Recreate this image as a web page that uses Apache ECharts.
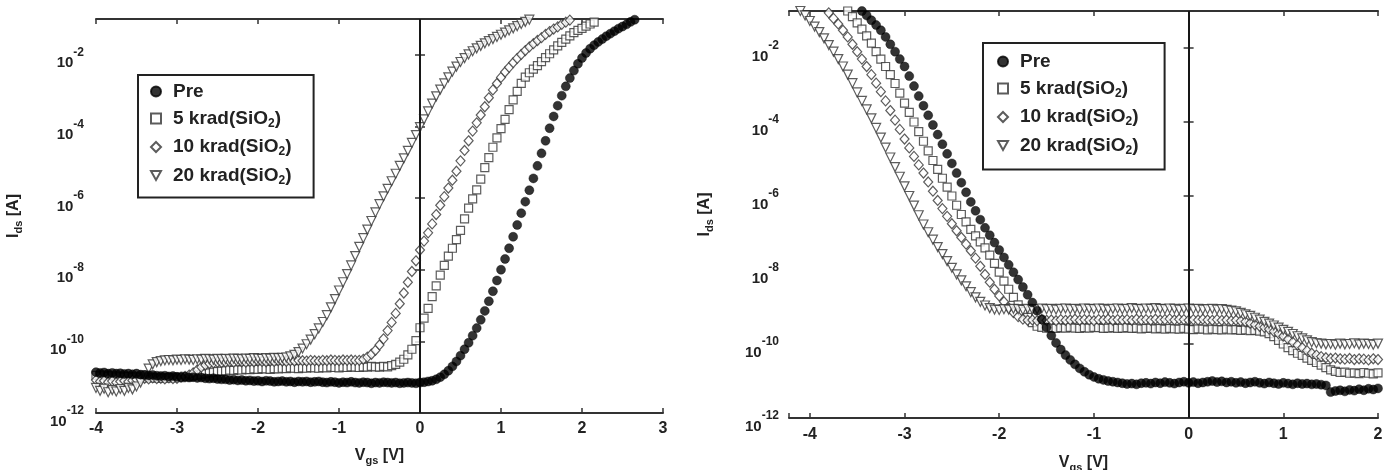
<!DOCTYPE html>
<html>
<head>
<meta charset="utf-8">
<title>Ids - Vgs before and after irradiation</title>
<script src="https://cdn.jsdelivr.net/npm/echarts@6/dist/echarts.min.js"></script>
<style>
  html, body { margin: 0; padding: 0; background: #fff; }
  #chart { width: 1385px; height: 470px; }
</style>
</head>
<body>
<div id="chart"></div>
<script>
// gate voltage sweeps (V)
const vgsLeft = [
  -4, -3.95, -3.9, -3.85, -3.8, -3.75, -3.7, -3.65, -3.6, -3.55,
  -3.5, -3.45, -3.4, -3.35, -3.3, -3.25, -3.2, -3.15, -3.1, -3.05,
  -3, -2.95, -2.9, -2.85, -2.8, -2.75, -2.7, -2.65, -2.6, -2.55,
  -2.5, -2.45, -2.4, -2.35, -2.3, -2.25, -2.2, -2.15, -2.1, -2.05,
  -2, -1.95, -1.9, -1.85, -1.8, -1.75, -1.7, -1.65, -1.6, -1.55,
  -1.5, -1.45, -1.4, -1.35, -1.3, -1.25, -1.2, -1.15, -1.1, -1.05,
  -1, -0.95, -0.9, -0.85, -0.8, -0.75, -0.7, -0.65, -0.6, -0.55,
  -0.5, -0.45, -0.4, -0.35, -0.3, -0.25, -0.2, -0.15, -0.1, -0.05,
  0, 0.05, 0.1, 0.15, 0.2, 0.25, 0.3, 0.35, 0.4, 0.45,
  0.5, 0.55, 0.6, 0.65, 0.7, 0.75, 0.8, 0.85, 0.9, 0.95,
  1, 1.05, 1.1, 1.15, 1.2, 1.25, 1.3, 1.35, 1.4, 1.45,
  1.5, 1.55, 1.6, 1.65, 1.7, 1.75, 1.8, 1.85, 1.9, 1.95,
  2, 2.05, 2.1, 2.15, 2.2, 2.25, 2.3, 2.35, 2.4, 2.45,
  2.5, 2.55, 2.6, 2.65
];
const vgsRight = [
  -4.1, -4.05,
  -4, -3.95, -3.9, -3.85, -3.8, -3.75, -3.7, -3.65, -3.6, -3.55,
  -3.5, -3.45, -3.4, -3.35, -3.3, -3.25, -3.2, -3.15, -3.1, -3.05,
  -3, -2.95, -2.9, -2.85, -2.8, -2.75, -2.7, -2.65, -2.6, -2.55,
  -2.5, -2.45, -2.4, -2.35, -2.3, -2.25, -2.2, -2.15, -2.1, -2.05,
  -2, -1.95, -1.9, -1.85, -1.8, -1.75, -1.7, -1.65, -1.6, -1.55,
  -1.5, -1.45, -1.4, -1.35, -1.3, -1.25, -1.2, -1.15, -1.1, -1.05,
  -1, -0.95, -0.9, -0.85, -0.8, -0.75, -0.7, -0.65, -0.6, -0.55,
  -0.5, -0.45, -0.4, -0.35, -0.3, -0.25, -0.2, -0.15, -0.1, -0.05,
  0, 0.05, 0.1, 0.15, 0.2, 0.25, 0.3, 0.35, 0.4, 0.45,
  0.5, 0.55, 0.6, 0.65, 0.7, 0.75, 0.8, 0.85, 0.9, 0.95,
  1, 1.05, 1.1, 1.15, 1.2, 1.25, 1.3, 1.35, 1.4, 1.45,
  1.5, 1.55, 1.6, 1.65, 1.7, 1.75, 1.8, 1.85, 1.9, 1.95,
  2
];

// log10(Ids / A), left panel: sweeps start at -4 V and stop at compliance
const preLeft = [
  -10.86, -10.88, -10.87, -10.9, -10.88, -10.9, -10.89, -10.91, -10.9, -10.92, -10.9, -10.93,
  -10.94, -10.95, -10.94, -10.96, -10.97, -10.96, -10.98, -10.97, -10.99, -11, -10.99, -11.01, -11, -11.02, -11.01, -11.03, -11.04, -11.03, -11.05, -11.06,
  -11.06, -11.08, -11.07, -11.09, -11.08, -11.1, -11.09, -11.11, -11.1, -11.12, -11.1, -11.11, -11.13, -11.12, -11.11, -11.13, -11.12, -11.14, -11.12, -11.13,
  -11.12, -11.14, -11.13, -11.12, -11.14, -11.15, -11.13, -11.14, -11.16, -11.14, -11.15, -11.13, -11.15, -11.16, -11.14, -11.15, -11.17, -11.15, -11.16, -11.14,
  -11.15, -11.16, -11.15, -11.17, -11.16, -11.15, -11.16, -11.17, -11.15, -11.14, -11.12, -11.1, -11.06,
  -11, -10.92, -10.82, -10.7, -10.56, -10.4, -10.22, -10.04, -9.84, -9.63,
  -9.4, -9.15, -8.88, -8.6, -8.3, -8, -7.7, -7.4, -7.08, -6.75,
  -6.42, -6.1, -5.78, -5.45, -5.1, -4.75, -4.4, -4.05, -3.72, -3.42,
  -3.14, -2.88, -2.65, -2.44, -2.25, -2.09, -1.95, -1.83, -1.73, -1.64,
  -1.56, -1.48, -1.41, -1.34, -1.27, -1.21, -1.15, -1.08, -1.02
];
const k5Left = [
  -10.95, -10.97, -10.94, -10.98, -10.96, -10.99, -10.97, -11, -10.98, -11.01, -10.99, -11,
  -11, -11.02, -11.01, -11.03, -11.02, -11.03, -11.01, -11.02, -11, -11.01, -10.98, -10.99, -10.96, -10.94, -10.92, -10.9, -10.88, -10.86, -10.84, -10.83,
  -10.82, -10.8, -10.81, -10.79, -10.8, -10.78, -10.79, -10.77, -10.78, -10.76, -10.77, -10.78, -10.76, -10.77, -10.75, -10.76, -10.74, -10.75, -10.76, -10.74,
  -10.75, -10.73, -10.74, -10.75, -10.73, -10.74, -10.72, -10.73, -10.74, -10.72, -10.73, -10.71, -10.72, -10.73, -10.71, -10.72, -10.7, -10.71, -10.72, -10.7,
  -10.71, -10.68, -10.64, -10.58, -10.5, -10.38, -10.22, -9.98, -9.62, -9.35,
  -9.08, -8.75, -8.45, -8.15, -7.88, -7.62, -7.4, -7.16, -6.9, -6.58,
  -6.28, -6.02, -5.77, -5.47, -5.15, -4.87, -4.58, -4.32, -4.06, -3.8,
  -3.53, -3.26, -3.02, -2.8, -2.62, -2.5, -2.4, -2.3, -2.19, -2.08,
  -1.97, -1.86, -1.75, -1.65, -1.56, -1.47, -1.38, -1.32, -1.26, -1.2,
  -1.14, -1.09
];
const k10Left = [
  -11.08, -11.12, -11.1, -11.14, -11.11, -11.15, -11.12, -11.1, -11.13, -11.09, -11.06, -11.04,
  -11.03, -11.05, -11.02, -11.04, -11.03, -11.05, -11.02, -11.04, -11.03, -11, -10.98, -10.94, -10.88, -10.8, -10.72, -10.66, -10.62, -10.6, -10.58, -10.59,
  -10.58, -10.57, -10.58, -10.56, -10.57, -10.58, -10.56, -10.57, -10.55, -10.56, -10.57, -10.55, -10.56, -10.54, -10.55, -10.56, -10.54, -10.55, -10.53, -10.54,
  -10.55, -10.53, -10.54, -10.55, -10.53, -10.54, -10.52, -10.53, -10.54, -10.52, -10.53, -10.52, -10.53,
  -10.53, -10.5, -10.44, -10.36, -10.25, -10.1, -9.93, -9.7, -9.47, -9.22,
  -8.95, -8.65, -8.35, -8.05, -7.75, -7.45, -7.2, -6.97, -6.72, -6.46,
  -6.2, -5.96, -5.72, -5.5, -5.25, -4.96, -4.67, -4.4, -4.13, -3.9,
  -3.68, -3.45, -3.2, -2.98, -2.8, -2.63, -2.48, -2.35, -2.22, -2.1,
  -1.99, -1.88, -1.78, -1.69, -1.6, -1.52, -1.43, -1.35, -1.28, -1.22,
  -1.15, -1.09, -1.03
];
const k20Left = [
  -11.3, -11.38, -11.32, -11.42, -11.36, -11.4, -11.33, -11.38, -11.3, -11.34, -11.26, -11.15,
  -10.95, -10.76, -10.64, -10.58, -10.55, -10.53, -10.52, -10.53, -10.51, -10.52, -10.5, -10.51, -10.52, -10.5, -10.51, -10.49, -10.5, -10.51, -10.49, -10.5,
  -10.49, -10.5, -10.48, -10.49, -10.5, -10.48, -10.49, -10.47, -10.48, -10.49, -10.47, -10.48, -10.46, -10.47, -10.46, -10.45,
  -10.42, -10.38, -10.3, -10.2, -10.08, -9.95, -9.8, -9.64, -9.46, -9.27,
  -9.05, -8.82, -8.58, -8.35, -8.12, -7.88, -7.62, -7.36, -7.12, -6.88,
  -6.64, -6.4, -6.17, -5.95, -5.74, -5.53, -5.32, -5.1, -4.89, -4.68,
  -4.46, -4.24, -4.02, -3.8, -3.58, -3.36, -3.16, -2.97, -2.8, -2.63,
  -2.47, -2.33, -2.2, -2.09, -1.99, -1.9, -1.82, -1.75, -1.68, -1.62,
  -1.56, -1.5, -1.44, -1.38, -1.32, -1.26, -1.2, -1.14, -1.08, -1.02
];

// log10(Ids / A), right panel: sweeps leave compliance and run to +2 V
const preRight = [
  -1, -1.12, -1.25, -1.38, -1.52, -1.7, -1.9, -2.1, -2.3, -2.5,
  -2.76, -3.03, -3.3, -3.56, -3.82, -4.08, -4.34, -4.6, -4.86, -5.12,
  -5.38, -5.64, -5.9, -6.16, -6.4, -6.64, -6.86, -7.06, -7.26, -7.46,
  -7.66, -7.86, -8.06, -8.26, -8.46, -8.67, -8.88, -9.1, -9.33, -9.55,
  -9.77, -9.97, -10.15, -10.3, -10.43, -10.55, -10.66, -10.75, -10.83, -10.89,
  -10.94, -10.97, -11, -11.02,
  -11.04, -11.06, -11.08, -11.07, -11.09, -11.06, -11.05, -11.07, -11.04, -11.06,
  -11.03, -11.05, -11.07, -11.04, -11.02, -11.05, -11.03, -11.06, -11.04, -11.02,
  -11, -11.03, -11.01, -11.04, -11.02, -11.05, -11.03, -11.06, -11.04, -11.02,
  -11.05, -11.07, -11.04, -11.06, -11.08, -11.05, -11.07, -11.09, -11.06, -11.08,
  -11.07, -11.09, -11.08, -11.1, -11.12, -11.3, -11.27, -11.25, -11.28, -11.24,
  -11.26, -11.22, -11.25, -11.21, -11.23, -11.2
];
const k5Right = [
  -1, -1.15, -1.32, -1.49, -1.67, -1.87, -2.1, -2.3, -2.5, -2.72,
  -2.96, -3.22, -3.49, -3.74, -4, -4.26, -4.52, -4.78, -5.04, -5.28,
  -5.52, -5.76, -6, -6.25, -6.5, -6.7, -6.9, -7.08, -7.24, -7.4,
  -7.6, -7.82, -8.06, -8.3, -8.52, -8.74, -8.94, -9.12, -9.28, -9.42,
  -9.52,
  -9.55, -9.57, -9.56, -9.58, -9.56, -9.57, -9.55, -9.57, -9.58, -9.56,
  -9.57, -9.55, -9.56, -9.58, -9.57, -9.56, -9.58, -9.57, -9.56, -9.58,
  -9.57, -9.59, -9.58, -9.57, -9.59, -9.58, -9.6, -9.58, -9.59, -9.6,
  -9.58, -9.6, -9.61, -9.59, -9.6, -9.62, -9.6, -9.61, -9.62, -9.6,
  -9.62, -9.61, -9.63, -9.62, -9.64, -9.63, -9.65, -9.67,
  -9.72, -9.8, -9.9, -10, -10.1, -10.18, -10.25, -10.31, -10.38, -10.44,
  -10.5, -10.57, -10.64, -10.7,
  -10.74, -10.77, -10.76, -10.79, -10.78, -10.8, -10.77, -10.79, -10.81, -10.78
];
const k10Right = [
  -1.05, -1.2, -1.35, -1.52, -1.7, -1.9, -2.1, -2.3, -2.5, -2.72,
  -2.95, -3.18, -3.43, -3.69, -3.95, -4.2, -4.46, -4.7, -4.93, -5.16,
  -5.38, -5.62, -5.87, -6.12, -6.34, -6.55, -6.75, -6.94, -7.12, -7.3,
  -7.48, -7.68, -7.9, -8.12, -8.33, -8.52, -8.7, -8.86, -9.02, -9.15,
  -9.26, -9.33, -9.36,
  -9.35, -9.37, -9.34, -9.36, -9.35, -9.37, -9.34, -9.36, -9.35, -9.33,
  -9.36, -9.34, -9.35, -9.37, -9.34, -9.35, -9.33, -9.36, -9.34, -9.35,
  -9.34, -9.36, -9.33, -9.35, -9.34, -9.36, -9.33, -9.35, -9.34, -9.32,
  -9.35, -9.33, -9.34, -9.36, -9.34, -9.35, -9.33, -9.35, -9.36, -9.34,
  -9.36, -9.35, -9.37, -9.36, -9.38, -9.4, -9.44,
  -9.48, -9.52, -9.55, -9.6, -9.66, -9.72, -9.79, -9.87, -9.95, -10.03,
  -10.1, -10.18, -10.25,
  -10.3, -10.34, -10.37, -10.39, -10.38, -10.4, -10.41, -10.39, -10.42, -10.4,
  -10.41, -10.43, -10.4, -10.42
];
const k20Right = [
  -1, -1.12, -1.27, -1.42, -1.57, -1.74, -1.92, -2.1, -2.3, -2.5,
  -2.72, -2.95, -3.2, -3.43, -3.66, -3.9, -4.16, -4.42, -4.69, -4.96,
  -5.22, -5.48, -5.74, -6, -6.26, -6.52, -6.77, -6.98, -7.18, -7.38,
  -7.57, -7.76, -7.94, -8.12, -8.28, -8.44, -8.6, -8.74, -8.86, -8.96,
  -9.03, -9.07,
  -9.08, -9.06, -9.07, -9.05, -9.06, -9.08, -9.05, -9.07, -9.06, -9.04,
  -9.06, -9.05, -9.07, -9.05, -9.04, -9.06, -9.05, -9.07, -9.04, -9.05,
  -9.06, -9.04, -9.05, -9.07, -9.05, -9.04, -9.06, -9.05, -9.03, -9.05,
  -9.06, -9.04, -9.05, -9.03, -9.05, -9.06, -9.04, -9.05, -9.07, -9.05,
  -9.04, -9.06, -9.05, -9.07, -9.06, -9.05, -9.07, -9.06, -9.08, -9.1,
  -9.12, -9.16,
  -9.2, -9.24, -9.29, -9.34, -9.4, -9.45, -9.5, -9.56, -9.62, -9.67,
  -9.73, -9.79, -9.85, -9.9, -9.95,
  -9.98, -9.99, -10.01, -10, -10.02, -9.99, -10.01, -10, -9.98, -10.01,
  -9.99, -10, -10.02, -9.99
];

const seriesNames = ['Pre', '5 krad(SiO2)', '10 krad(SiO2)', '20 krad(SiO2)'];
const yTicks = [-12, -10, -8, -6, -4, -2];

const font = '"Liberation Sans", Arial, sans-serif';
const ink = '#222';

// pair each current with its gate voltage
const fromStart = (vgs, logI) => logI.map((y, i) => [vgs[i], y]);
const fromEnd = (vgs, logI) => {
  const off = vgs.length - logI.length;
  return logI.map((y, i) => [vgs[off + i], y]);
};

// 10^n tick labels: an invisible tall token sets the line box, base sits low, exponent high
const expRich = {
  h: { fontSize: 10, lineHeight: 24, width: 0 },
  b: { fontSize: 15, fontWeight: 'bold', fontFamily: font, color: ink, lineHeight: 14, verticalAlign: 'bottom' },
  p: { fontSize: 12, fontWeight: 'bold', fontFamily: font, color: ink, lineHeight: 12, verticalAlign: 'top' }
};
const expLabel = v => (yTicks.indexOf(v) < 0 ? '' : '{h|\u200b}{b|10}{p|' + v + '}');

const nameRich = {
  n: { fontSize: 16, fontWeight: 'bold', fontFamily: font, color: ink, lineHeight: 20, verticalAlign: 'middle' },
  d: { fontSize: 11, fontWeight: 'bold', fontFamily: font, color: ink, lineHeight: 8, verticalAlign: 'bottom' }
};

const legendRich = {
  g: { width: 7 },
  t: { fontSize: 19, fontWeight: 'bold', fontFamily: font, color: ink, lineHeight: 22, verticalAlign: 'middle' },
  s: { fontSize: 12, fontWeight: 'bold', fontFamily: font, color: ink, lineHeight: 8, verticalAlign: 'bottom' }
};
const legendLabel = name => {
  const k = name.indexOf('SiO2');
  if (k < 0) return '{g|}{t|' + name + '}';
  return '{g|}{t|' + name.slice(0, k + 3) + '}{s|2}{t|' + name.slice(k + 4) + '}';
};

const axisLine = { lineStyle: { color: '#333', width: 2 } };
const axisTick = { inside: true, length: 5, lineStyle: { color: '#333', width: 1.5 } };

function xAxes(grid, min, max, extra, nameGap, labelMargin) {
  const base = {
    gridIndex: grid, type: 'value', min: min, max: max,
    axisLine: axisLine, axisTick: axisTick, splitLine: { show: false }
  };
  return [
    Object.assign({}, base, extra, {
      position: 'bottom',
      name: '{n|V}{d|gs}{n| [V]}', nameLocation: 'middle', nameGap: nameGap,
      nameTextStyle: { rich: nameRich },
      axisLabel: {
        fontSize: 16, fontWeight: 'bold', fontFamily: font, color: ink, margin: labelMargin,
        formatter: v => (Number.isInteger(v) ? String(v) : '')
      }
    }),
    Object.assign({}, base, extra, { position: 'top', axisLabel: { show: false } })
  ];
}

function yAxes(grid, nameGap, labelMargin) {
  const base = {
    gridIndex: grid, type: 'value', min: -12, max: -1, interval: 2,
    axisLine: axisLine, axisTick: axisTick, splitLine: { show: false }
  };
  return [
    Object.assign({}, base, {
      position: 'left',
      name: '{n|I}{d|ds}{n| [A]}', nameLocation: 'middle', nameGap: nameGap, nameRotate: 90,
      nameTextStyle: { rich: nameRich },
      axisLabel: { margin: labelMargin, padding: [8, 0, 0, 0], rich: expRich, formatter: expLabel }
    }),
    Object.assign({}, base, { position: 'right', axisLabel: { show: false } })
  ];
}

const markerStyles = [
  { symbol: 'circle', symbolSize: 9, itemStyle: { color: '#000', borderColor: '#000', borderWidth: 0.5 } },
  { symbol: 'rect', symbolSize: 8, itemStyle: { color: '#fff', borderColor: '#333', borderWidth: 1.2 } },
  { symbol: 'diamond', symbolSize: [9, 10], itemStyle: { color: '#fff', borderColor: '#333', borderWidth: 1.2 } },
  { symbol: 'triangle', symbolSize: 9, symbolRotate: 180, itemStyle: { color: '#fff', borderColor: '#333', borderWidth: 1.2 } }
];

const zeroLine = {
  silent: true, symbol: ['none', 'none'], label: { show: false },
  lineStyle: { color: '#111', width: 1.6, type: 'solid' },
  data: [{ xAxis: 0 }]
};

function panelSeries(axisIdx, curves) {
  // draw irradiated curves first, pre-rad on top
  const order = [1, 2, 3, 0];
  return order.map((k, j) => Object.assign({
    type: 'scatter',
    name: seriesNames[k],
    xAxisIndex: axisIdx, yAxisIndex: axisIdx,
    data: curves[k],
    z: 2 + j,
    markLine: j === 0 ? zeroLine : undefined
  }, markerStyles[k]));
}

function legendBox(left, top, padding) {
  return {
    orient: 'vertical', left: left, top: top, padding: padding, itemGap: 8,
    itemWidth: 10, itemHeight: 10,
    backgroundColor: '#fff', borderColor: '#222', borderWidth: 2, borderRadius: 0,
    data: seriesNames.map(n => (n.indexOf('20') === 0
      ? { name: n, icon: 'path://M0,0L10,0L5,9Z' }
      : { name: n })),
    selectedMode: false,
    formatter: legendLabel,
    textStyle: { rich: legendRich }
  };
}

const leftCurves = [
  fromStart(vgsLeft, preLeft), fromStart(vgsLeft, k5Left),
  fromStart(vgsLeft, k10Left), fromStart(vgsLeft, k20Left)
];
const rightCurves = [
  fromEnd(vgsRight, preRight), fromEnd(vgsRight, k5Right),
  fromEnd(vgsRight, k10Right), fromEnd(vgsRight, k20Right)
];

const chart = echarts.init(document.getElementById('chart'), null, { renderer: 'canvas' });
chart.setOption({
  animation: false,
  backgroundColor: '#fff',
  grid: [
    { left: 96, top: 19, width: 567, height: 394, outerBoundsMode: 'none' },
    { left: 789, top: 11, width: 589, height: 407, outerBoundsMode: 'none' }
  ],
  xAxis: [].concat(
    xAxes(0, -4, 3, { interval: 1 }, 33, 8),
    xAxes(1, -4.22, 2, { splitNumber: 6 }, 35, 9)
  ),
  yAxis: [].concat(yAxes(0, 72, 12), yAxes(1, 74, 10)),
  legend: [
    legendBox(138, 75, [7, 22, 11, 12]),
    legendBox(983, 43, [9, 26, 13, 14])
  ],
  series: [].concat(panelSeries(0, leftCurves), panelSeries(2, rightCurves))
});
</script>
</body>
</html>
